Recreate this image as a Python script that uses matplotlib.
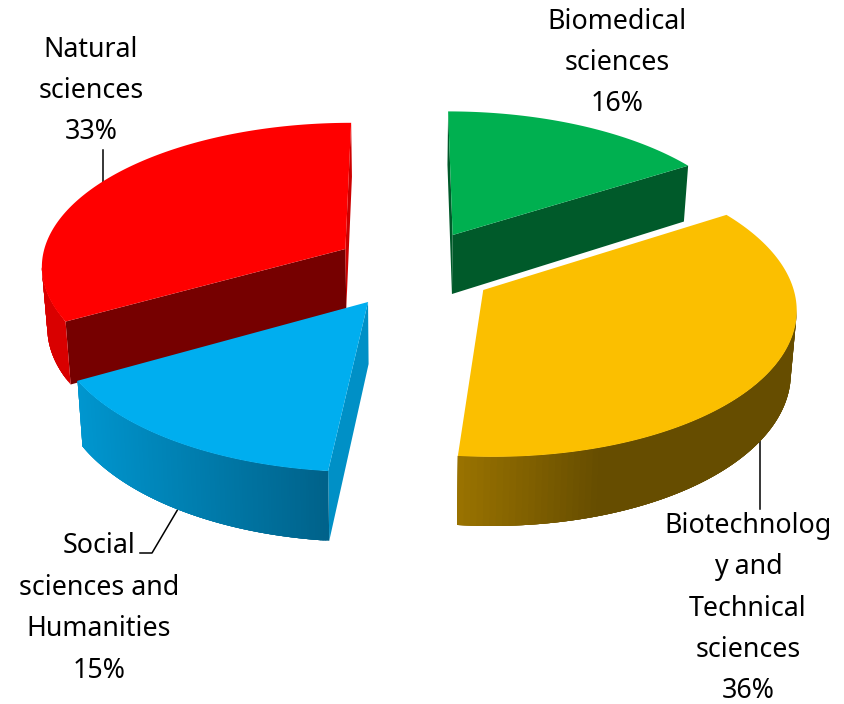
import numpy as np
import matplotlib
matplotlib.use("Agg")
import matplotlib.pyplot as plt

# shares of each field, clockwise from 12 o'clock
categories = ["Biomedical\nsciences", "Biotechnolog\ny and\nTechnical\nsciences",
              "Social\nsciences and\nHumanities", "Natural\nsciences"]
shares = [16.0, 35.6, 15.2, 33.2]
percent_labels = ["16%", "36%", "15%", "33%"]

# exploded slice offset on the floor plane
offsets = [(0.160, 0.386), (0.252, 0.0), (-0.118, -0.080), (-0.198, 0.285)]
top_colors = ["#00B050", "#FBBF00", "#00AEEF", "#FF0000"]
# wall colours: first radial wall, second radial wall, None when it is hidden
wall_colors = [("#005A2A", "#005A2A"), (None, None),
               ("#0090C6", None), ("#760000", "#CC0000")]
rim_stops = [
    ([450, 700], ["#005A2A", "#005A2A"]),
    ([458, 600, 800], ["#9A7300", "#664D00", "#664D00"]),
    ([78, 326], ["#0096CF", "#00628A"]),
    ([40, 350], ["#D90000", "#D90000"]),
]
label_pos = [(617, 63), (748, 608.5), (99, 608.5), (91, 91)]

# projection of the tilted pie to pixels
XC, YC = 405, 290
F, G, K = 310.5, 148.5, 0.11
HEIGHT = 61.5


def project(x, y, z=0.0):
    d = 1 + K * y
    sx = XC + F * x / d * (1 - 0.015 * z)
    sy = YC - G * y / d + z * HEIGHT / d
    return sx, sy


fig = plt.figure(figsize=(8.44, 7.04), dpi=100)
ax = fig.add_axes([0, 0, 1, 1])
ax.set_xlim(0, 844)
ax.set_ylim(704, 0)
ax.axis("off")

# leader lines go under the slices
ax.plot([103, 103], [150, 182], color="black", lw=1.1, zorder=1)
ax.plot([760, 760], [437, 509], color="black", lw=1.1, zorder=1)
ax.plot([140, 152, 178], [553, 553, 509], color="black", lw=1.1, zorder=1)

edges = np.cumsum([0] + shares) / sum(shares) * 2 * np.pi

# far slices first, the near ones overlap them
order = sorted(range(len(shares)), key=lambda i: -offsets[i][1])
z = 2
for i in order:
    ox, oy = offsets[i]
    t = np.linspace(edges[i], edges[i + 1], 120)
    xs = ox + np.sin(t)
    ys = oy + np.cos(t)
    tx, ty = project(xs, ys, 0)
    bx, by = project(xs, ys, 1)
    ax0, ay0 = project(ox, oy, 0)
    ax1, ay1 = project(ox, oy, 1)

    # the two radial walls
    for j, col in zip((0, -1), wall_colors[i]):
        if col is None:
            continue
        ax.fill([ax0, tx[j], bx[j], ax1], [ay0, ty[j], by[j], ay1],
                color=col, lw=0, zorder=z)

    # outer wall, only the part facing us (x falls going clockwise)
    # shaded strip by strip, each strip overlaps the next so no seams show
    stops_x, stops_c = rim_stops[i]
    rgb = np.array([matplotlib.colors.to_rgb(c) for c in stops_c])
    visible = np.where(np.diff(tx) < 0)[0]
    for j in visible:
        e = min(j + 4, visible[-1] + 1)
        mid = (tx[j] + tx[j + 1]) / 2
        col = [np.interp(mid, stops_x, rgb[:, k]) for k in range(3)]
        ax.fill(np.r_[tx[j:e + 1], bx[j:e + 1][::-1]], np.r_[ty[j:e + 1], by[j:e + 1][::-1]],
                color=col, lw=0, zorder=z + 0.1)

    # top face
    ax.fill(np.r_[ax0, tx], np.r_[ay0, ty], color=top_colors[i], lw=0, zorder=z + 0.3)
    z += 1

for name, pct, (lx, ly) in zip(categories, percent_labels, label_pos):
    ax.text(lx, ly, name + "\n" + pct, ha="center", va="center", ma="center",
            family="Noto Sans", fontsize=19.3, linespacing=1.64, color="black", zorder=20)

fig.savefig("out.png", dpi=100)
